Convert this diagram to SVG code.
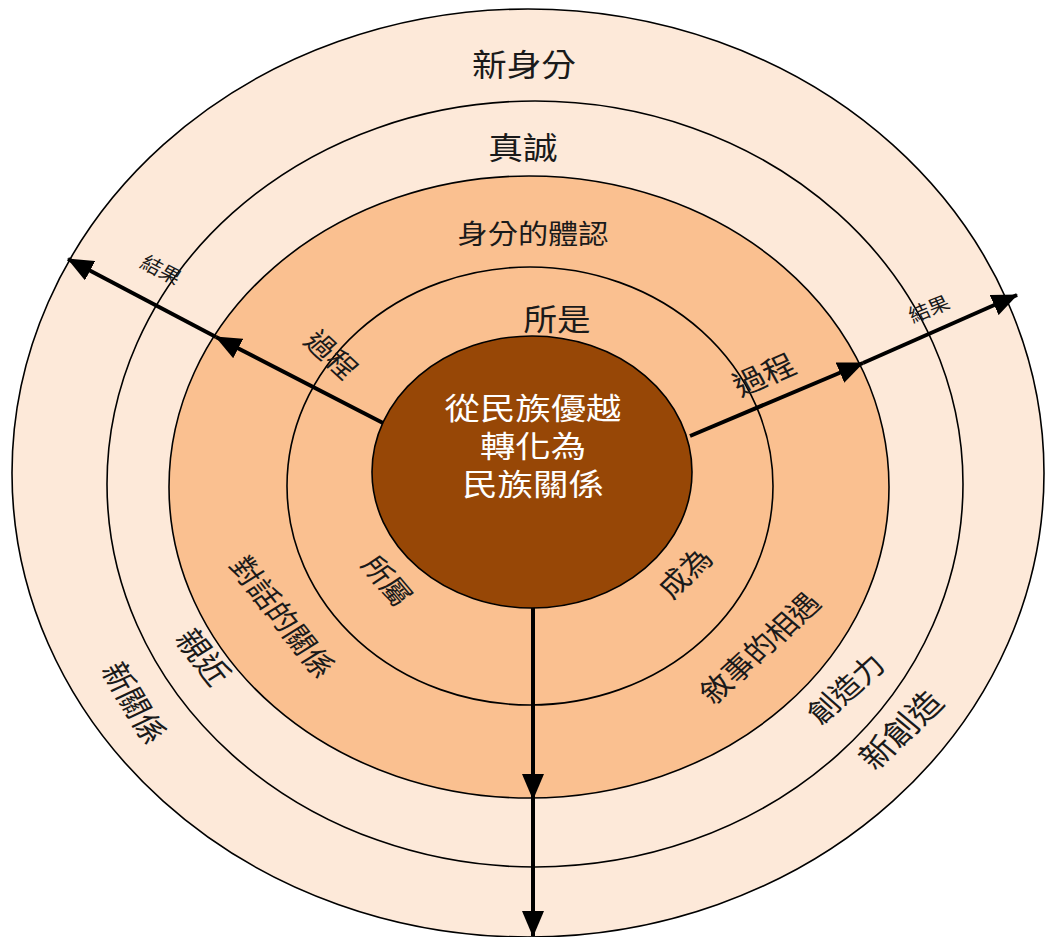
<svg xmlns="http://www.w3.org/2000/svg" width="1048" height="937" viewBox="0 0 1048 937">
<defs>
<style>
.ring{stroke:#000;stroke-width:1.6}
.light{fill:#FDE9D9}
.mid{fill:#FAC090}
.core{fill:#974706}
.t{font-family:"Noto Sans CJK TC","Noto Sans CJK SC",sans-serif;fill:#1a1a1a;text-anchor:middle}
.w{fill:#FFFFFF}
.arr{stroke:#000;stroke-width:4;fill:none;marker-end:url(#ah)}
</style>
<marker id="ah" markerUnits="userSpaceOnUse" markerWidth="26" markerHeight="22" refX="25" refY="11" orient="auto" viewBox="0 0 26 22">
<path d="M0,0 L26,11 L0,22 z" fill="#000"/>
</marker>
</defs>
<rect width="1048" height="937" fill="#FFFFFF"/>
<g id="ring-new-identity">
<ellipse class="ring light" cx="528" cy="473" rx="516" ry="464"/>
<text class="t" font-size="31" transform="translate(524,76) scale(1.12,1)">新身分</text>
<g transform="translate(134,703) scale(1.12,1) rotate(62)"><text class="t" font-size="29" dy="0.36em">新關係</text></g>
<g transform="translate(901,730) scale(1.12,1) rotate(-47)"><text class="t" font-size="31" dy="0.36em">新創造</text></g>
</g>
<g id="ring-sincerity">
<ellipse class="ring light" cx="535" cy="484" rx="428" ry="383"/>
<text class="t" font-size="31" transform="translate(523,159) scale(1.12,1)">真誠</text>
<g transform="translate(203,657) scale(1.12,1) rotate(55)"><text class="t" font-size="30" dy="0.36em">親近</text></g>
<g transform="translate(846,689) scale(1.12,1) rotate(-45)"><text class="t" font-size="28" dy="0.36em">創造力</text></g>
</g>
<g id="ring-identity-recognition">
<ellipse class="ring mid" cx="529" cy="487" rx="360" ry="311"/>
<text class="t" font-size="27" transform="translate(533,244) scale(1.12,1)">身分的體認</text>
<g transform="translate(282,617) scale(1.12,1) rotate(55)"><text class="t" font-size="28" dy="0.36em">對話的關係</text></g>
<g transform="translate(760,648) scale(1.12,1) rotate(-46)"><text class="t" font-size="28" dy="0.36em">敘事的相遇</text></g>
</g>
<g id="ring-being">
<ellipse class="ring mid" cx="530" cy="486" rx="243" ry="219"/>
<text class="t" font-size="30" transform="translate(557,330) scale(1.12,1)">所是</text>
<g transform="translate(387,581) scale(1.12,1) rotate(53)"><text class="t" font-size="27" dy="0.36em">所屬</text></g>
<g transform="translate(685,573) scale(1.12,1) rotate(-47)"><text class="t" font-size="28" dy="0.36em">成為</text></g>
</g>
<g id="core">
<ellipse class="ring core" cx="532" cy="472" rx="160" ry="136"/>
<text class="t w" font-size="30" transform="translate(533,419) scale(1.18,1)"><tspan x="0" y="0">從民族優越</tspan><tspan x="0" y="38">轉化為</tspan><tspan x="0" y="76">民族關係</tspan></text>
</g>
<g id="connectors">
<line class="arr" x1="383" y1="423" x2="216" y2="337"/>
<line class="arr" x1="216" y1="337" x2="68" y2="259"/>
<line class="arr" x1="690" y1="436" x2="863" y2="363"/>
<line class="arr" x1="863" y1="363" x2="1017" y2="295"/>
<line class="arr" x1="533" y1="608" x2="533" y2="799"/>
<line class="arr" x1="533" y1="799" x2="533" y2="936"/>
</g>
<g id="labels">
<g transform="translate(331,355) scale(1.12,1) rotate(46)"><text class="t" font-size="27" dy="0.36em">過程</text></g>
<g transform="translate(764,375) scale(1.12,1) rotate(-26)"><text class="t" font-size="29" dy="0.36em">過程</text></g>
<g transform="translate(161,270) scale(1.12,1) rotate(30)"><text class="t" font-size="19" dy="0.36em">結果</text></g>
<g transform="translate(929,309) scale(1.12,1) rotate(-24)"><text class="t" font-size="19" dy="0.36em">結果</text></g>
</g>
</svg>
